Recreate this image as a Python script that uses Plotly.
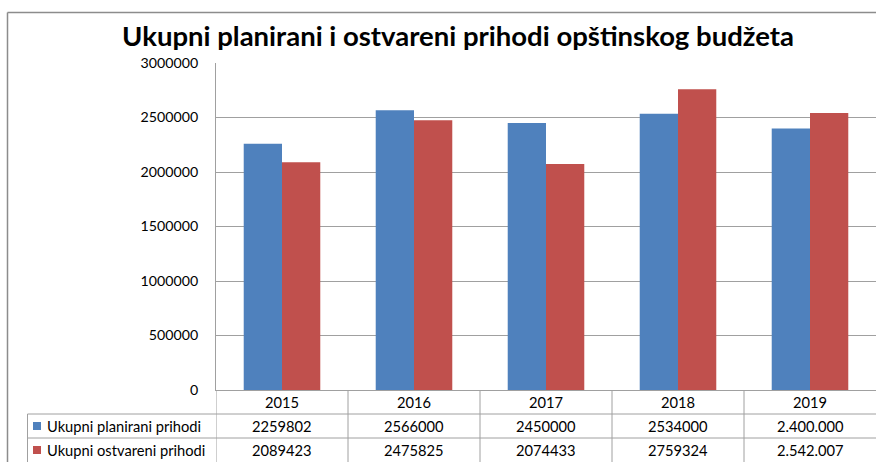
import plotly.graph_objects as go

years = ["2015", "2016", "2017", "2018", "2019"]
planned = [2259802, 2566000, 2450000, 2534000, 2400000]
realized = [2089423, 2475825, 2074433, 2759324, 2542007]
planned_labels = ["2259802", "2566000", "2450000", "2534000", "2.400.000"]
realized_labels = ["2089423", "2475825", "2074433", "2759324", "2.542.007"]
series_names = ["Ukupni planirani prihodi", "Ukupni ostvareni prihodi"]
colors = ["#4F81BD", "#C0504D"]
title = "Ukupni planirani i ostvareni prihodi opštinskog budžeta"

W, H = 876, 462
FONT = "Lato"
GRID = "#A0A0A0"

def py(pix):
    return (H - pix) / H

def px(pix):
    return pix / W

fig = go.Figure()
xs = list(range(len(years)))
fig.add_trace(go.Bar(x=xs, y=planned, name=series_names[0], marker_color=colors[0],
                     marker_line_width=0))
fig.add_trace(go.Bar(x=xs, y=realized, name=series_names[1], marker_color=colors[1],
                     marker_line_width=0))

y_bot, y_top = 390, 63
fig.update_layout(
    width=W, height=H,
    margin=dict(l=0, r=0, t=0, b=0, pad=0, autoexpand=False),
    paper_bgcolor="white", plot_bgcolor="white",
    showlegend=False,
    barmode="group", bargap=0.42, bargroupgap=0,
    font=dict(family=FONT, size=14.7, color="#000000"),
    xaxis=dict(domain=[px(216), 1], range=[-0.5, len(years) - 0.5], automargin=False,
               showticklabels=False, showgrid=False, zeroline=False,
               showline=True, linecolor=GRID, linewidth=1, ticks=""),
    yaxis=dict(domain=[py(y_bot), py(y_top)], range=[0, 3000000], dtick=500000, automargin=False,
               showgrid=True, gridcolor=GRID, gridwidth=1.3, zeroline=False,
               showline=True, linecolor=GRID, linewidth=1, ticks="",
               tickformat="d", ticklabelstandoff=14,
               tickfont=dict(family=FONT, size=14.2, color="#000000")),
)

shapes = []
# outer chart border
shapes.append(dict(type="line", xref="paper", yref="paper", x0=px(7.5), x1=1, y0=py(12.5), y1=py(12.5),
                   line=dict(color="#8C8C8C", width=1.5)))
shapes.append(dict(type="line", xref="paper", yref="paper", x0=px(7.5), x1=px(7.5), y0=0, y1=py(12.5),
                   line=dict(color="#8C8C8C", width=1.5)))
# table vertical lines at category boundaries
for i in range(len(years)):
    shapes.append(dict(type="line", xref="x", yref="paper", x0=i - 0.5, x1=i - 0.5,
                       y0=0, y1=py(y_bot), line=dict(color=GRID, width=1)))
# label column left border
shapes.append(dict(type="line", xref="paper", yref="paper", x0=px(27.5), x1=px(27.5),
                   y0=0, y1=py(414), line=dict(color=GRID, width=1)))
# table horizontal lines
for yy in (414, 438):
    shapes.append(dict(type="line", xref="paper", yref="paper", x0=px(27.5), x1=1,
                       y0=py(yy), y1=py(yy), line=dict(color=GRID, width=1)))
# legend keys
for k, yc in enumerate((426, 450)):
    shapes.append(dict(type="rect", xref="paper", yref="paper", x0=px(33), x1=px(41),
                       y0=py(yc + 4), y1=py(yc - 4), fillcolor=colors[k], line=dict(width=0)))
fig.update_layout(shapes=shapes)

ann = []
ann.append(dict(text="<b>" + title + "</b>", xref="paper", yref="paper", x=px(458), y=py(35),
                showarrow=False, xanchor="center", yanchor="middle",
                font=dict(family=FONT, size=27.5, color="#000000")))
for i, yr in enumerate(years):
    ann.append(dict(text=yr, xref="x", yref="paper", x=i, y=py(402), showarrow=False,
                    xanchor="center", yanchor="middle"))
    ann.append(dict(text=planned_labels[i], xref="x", yref="paper", x=i, y=py(426), showarrow=False,
                    xanchor="center", yanchor="middle"))
    ann.append(dict(text=realized_labels[i], xref="x", yref="paper", x=i, y=py(450), showarrow=False,
                    xanchor="center", yanchor="middle"))
for k, yc in enumerate((426, 450)):
    ann.append(dict(text=series_names[k], xref="paper", yref="paper", x=px(45), y=py(yc),
                    showarrow=False, xanchor="left", yanchor="middle"))
fig.update_layout(annotations=ann)

post = ("var gd=document.getElementById('{plot_id}');"
        "gd.style.position='fixed';gd.style.top='0px';gd.style.left='0px';"
        "document.body.style.margin='0';document.body.style.overflow='hidden';")
fig.write_html("out.html", config={"displayModeBar": False}, post_script=post)
